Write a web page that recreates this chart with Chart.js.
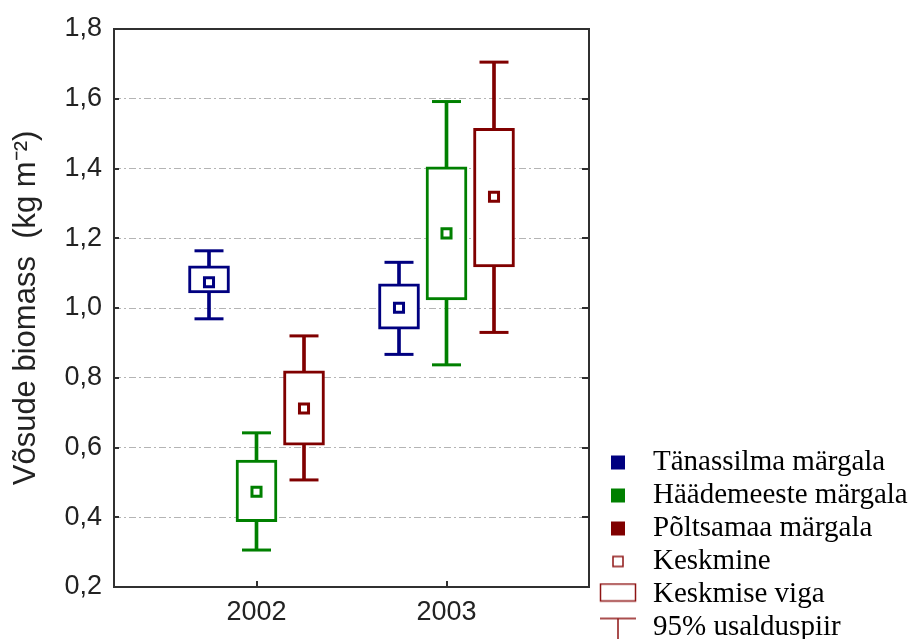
<!DOCTYPE html>
<html><head><meta charset="utf-8">
<script src="https://cdn.jsdelivr.net/npm/chart.js@4.4.1/dist/chart.umd.min.js"></script>
<style>html,body{margin:0;padding:0;background:#fff;overflow:hidden}#wrap{width:920px;height:646px}</style>
</head><body><div id="wrap"><canvas id="c" width="920" height="646"></canvas></div>
<script>
// ---- data ----
const years = ['2002', '2003'];
const seriesNames = ['Tänassilma märgala', 'Häädemeeste märgala', 'Põltsamaa märgala'];
const seriesColors = ['#000080', '#008000', '#800000'];
const meanValues = [[1.074, 1.001], [0.473, 1.214], [0.712, 1.319]];
const seLower    = [[1.043, 0.939], [0.387, 1.023], [0.607, 1.118]];
const seUpper    = [[1.121, 1.069], [0.564, 1.405], [0.820, 1.515]];
const ciLower    = [[0.969, 0.867], [0.306, 0.837], [0.507, 0.930]];
const ciUpper    = [[1.164, 1.131], [0.642, 1.592], [0.920, 1.705]];
const yTickLabels = ['0,2', '0,4', '0,6', '0,8', '1,0', '1,2', '1,4', '1,6', '1,8'];
const yTitle = 'Võsude biomass  (kg m⁻²)';
const legendExtra = ['Keskmine', 'Keskmise viga', '95% usalduspiir'];

// ---- layout ----
const groupOffset = [-0.25, 0, 0.25];
const sansFont = '"Liberation Sans", Arial, sans-serif';
const serifFont = '"Liberation Serif", "Times New Roman", serif';

const datasets = [];
seriesNames.forEach((name, s) => {
  const col = seriesColors[s];
  datasets.push({
    type: 'bar', label: name + ' ci', order: 3, grouped: false,
    data: years.map((_, i) => ({ x: i + groupOffset[s], y: [ciLower[s][i], ciUpper[s][i]] })),
    backgroundColor: col, borderWidth: 0, barThickness: 3
  });
  datasets.push({
    type: 'scatter', label: name + ' caps', order: 2,
    data: years.flatMap((_, i) => [
      { x: i + groupOffset[s], y: ciLower[s][i] },
      { x: i + groupOffset[s], y: ciUpper[s][i] }
    ]),
    pointStyle: 'line', pointRadius: 14.5, pointHoverRadius: 14.5,
    pointBorderWidth: 3, pointBorderColor: col, pointBackgroundColor: col
  });
  datasets.push({
    type: 'bar', label: name + ' se', order: 1, grouped: false,
    data: years.map((_, i) => ({ x: i + groupOffset[s], y: [seLower[s][i], seUpper[s][i]] })),
    backgroundColor: '#ffffff', borderColor: col, borderWidth: 3, borderSkipped: false, barThickness: 41
  });
  datasets.push({
    type: 'scatter', label: name, order: 0,
    data: years.map((_, i) => ({ x: i + groupOffset[s], y: meanValues[s][i] })),
    pointStyle: 'rect', pointRadius: 6.4, pointHoverRadius: 6.4,
    pointBorderWidth: 3, pointBorderColor: col, pointBackgroundColor: '#ffffff'
  });
});

// ---- legend icons ----
function icon(w, h, draw) {
  const c = document.createElement('canvas');
  c.width = w; c.height = h;
  draw(c.getContext('2d'));
  return c;
}
const legendRed = '#8e1414';
const seriesIcons = seriesColors.map(col => icon(16, 16, g => { g.fillStyle = col; g.fillRect(1, 1, 14, 14); }));
const meanIcon = icon(14, 14, g => { g.strokeStyle = legendRed; g.lineWidth = 1.5; g.strokeRect(2, 2, 10, 10); });
const boxIcon = icon(40, 24, g => { g.strokeStyle = legendRed; g.lineWidth = 1.5; g.strokeRect(2.5, 1.5, 35, 17); });
const whiskerIcon = icon(40, 30, g => {
  g.strokeStyle = legendRed; g.lineWidth = 1.5;
  g.beginPath(); g.moveTo(2, 6); g.lineTo(38, 6); g.moveTo(20, 6); g.lineTo(20, 30); g.stroke();
});
const legendIcons = [...seriesIcons, meanIcon, boxIcon, whiskerIcon];
const legendTexts = [...seriesNames, ...legendExtra];

// ---- plugins ----
const framePlugin = {
  id: 'frame',
  afterDraw(chart) {
    const { ctx, chartArea: a, scales: { x, y } } = chart;
    ctx.save();
    ctx.strokeStyle = '#303030';
    ctx.lineWidth = 2;
    ctx.strokeRect(a.left, a.top, a.right - a.left, a.bottom - a.top);
    ctx.beginPath();
    y.ticks.forEach(t => {
      const py = Math.round(y.getPixelForValue(t.value));
      ctx.moveTo(a.left, py); ctx.lineTo(a.left + 5, py);
      ctx.moveTo(a.right, py); ctx.lineTo(a.right - 7, py);
    });
    x.ticks.forEach(t => {
      const px = Math.round(x.getPixelForValue(t.value));
      ctx.moveTo(px, a.bottom); ctx.lineTo(px, a.bottom - 6);
    });
    ctx.stroke();
    ctx.restore();
  }
};
const legendWidthPlugin = {
  id: 'legendWidth',
  beforeLayout(chart) {
    const lg = chart.legend;
    if (lg && !lg._fixedFit) {
      const orig = lg.fit;
      lg.fit = function () { orig.call(this); this.width = 920 - 593.5; };
      lg._fixedFit = true;
    }
  }
};

new Chart(document.getElementById('c'), {
  type: 'bar',
  data: { datasets },
  plugins: [framePlugin, legendWidthPlugin],
  options: {
    responsive: false,
    animation: false,
    devicePixelRatio: 1,
    events: [],
    layout: { padding: { left: 0, right: 0, top: 29, bottom: 0 } },
    plugins: {
      tooltip: { enabled: false },
      legend: {
        position: 'right',
        align: 'end',
        onClick: null,
        labels: {
          usePointStyle: true,
          pointStyleWidth: 41,
          padding: 4,
          color: '#000',
          font: { family: serifFont, size: 29 },
          generateLabels: () => legendTexts.map((t, i) => ({
            text: t, pointStyle: legendIcons[i], fillStyle: 'transparent',
            strokeStyle: 'transparent', lineWidth: 0, hidden: false, fontColor: '#000'
          }))
        }
      }
    },
    scales: {
      x: {
        type: 'linear', min: -0.75, max: 1.75, offset: false,
        afterBuildTicks(s) { s.ticks = years.map((_, i) => ({ value: i })); },
        afterFit(s) { s.height = 59; },
        ticks: {
          padding: 9, color: '#222', autoSkip: false, maxRotation: 0,
          font: { family: sansFont, size: 27 },
          callback: v => years[v]
        },
        grid: { display: false, drawTicks: false, offset: false },
        border: { display: false }
      },
      y: {
        type: 'linear', position: 'left', min: 0.2, max: 1.8, beginAtZero: false,
        afterFit(s) { s.width = 114; },
        ticks: {
          stepSize: 0.2, padding: 12, color: '#222',
          font: { family: sansFont, size: 27 },
          callback: (v, i) => yTickLabels[i]
        },
        grid: { color: '#b4b4b4', lineWidth: 1, drawTicks: false },
        border: { display: false, dash: [7, 3, 2, 3] },
        title: {
          display: true, text: yTitle, color: '#222',
          font: { family: sansFont, size: 31 },
          padding: { top: 8, bottom: 0 }
        }
      },
      y2: {
        type: 'linear', position: 'right', display: true,
        afterFit(s) { s.width = 4.5; },
        ticks: { display: false },
        grid: { display: false, drawTicks: false },
        border: { display: false }
      }
    }
  }
});
</script>
</body></html>
